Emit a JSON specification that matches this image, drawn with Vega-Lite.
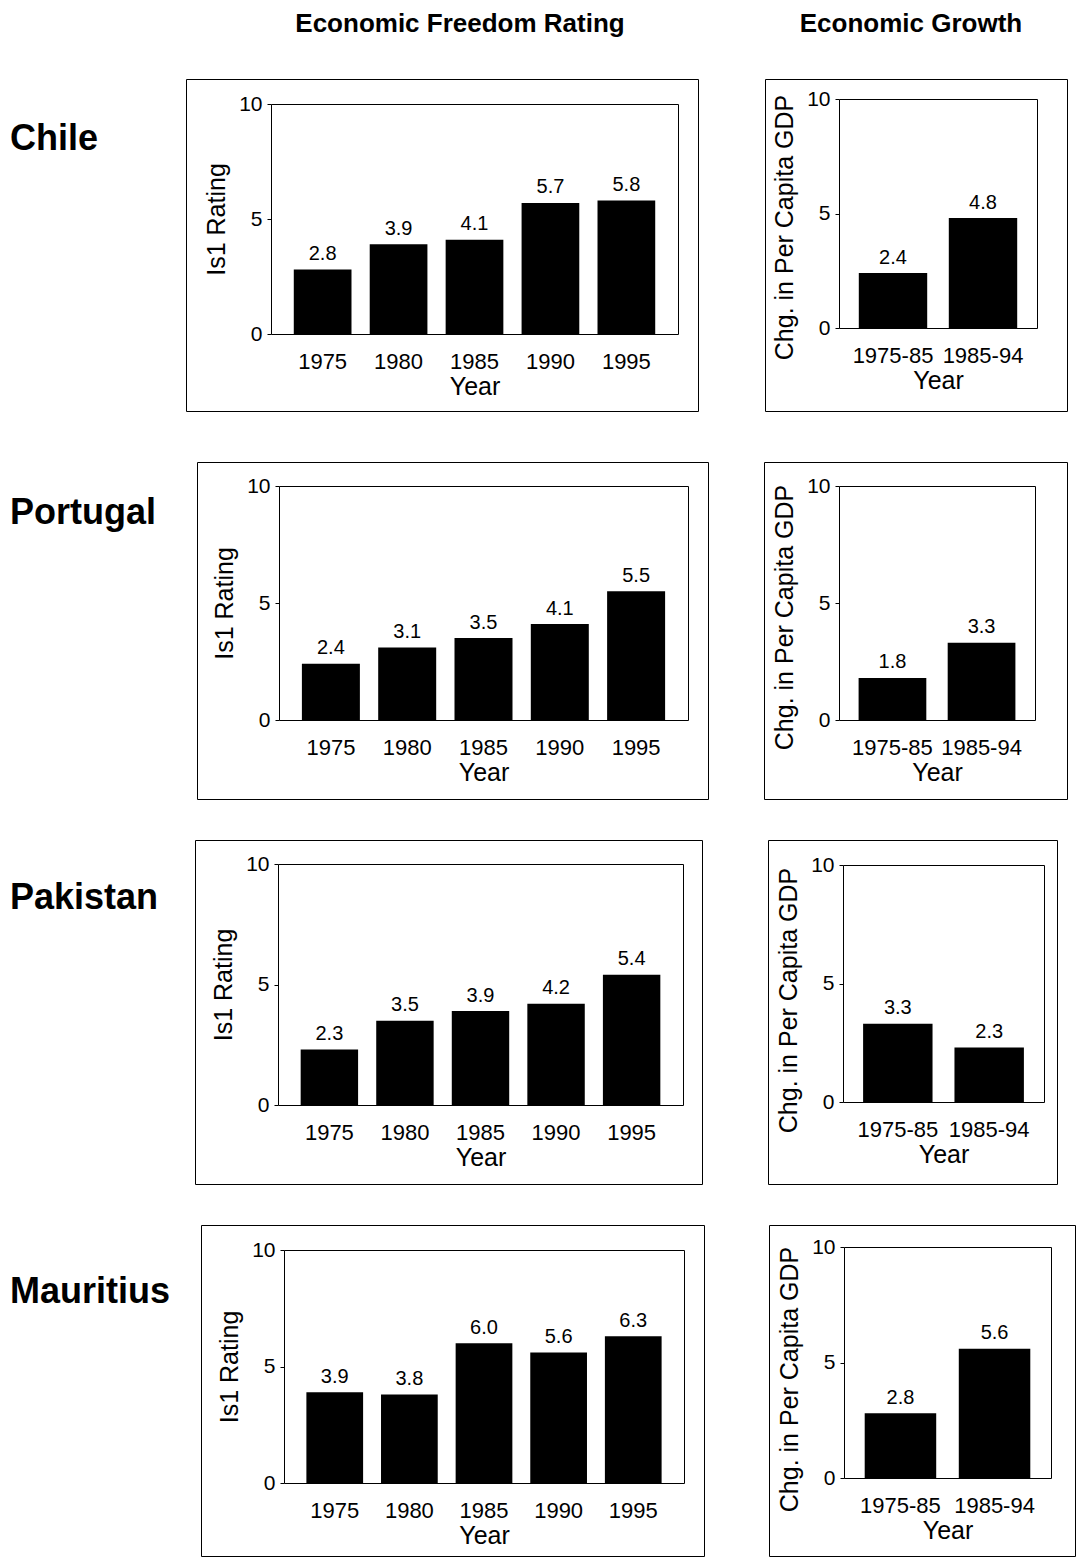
{
  "$schema": "https://vega.github.io/schema/vega-lite/v6.json",
  "padding": 0,
  "background": "white",
  "spacing": 30,
  "config": {
    "font": "Liberation Sans",
    "view": {"stroke": "black", "strokeWidth": 1},
    "axis": {
      "grid": false,
      "labelFontSize": 21,
      "titleFontSize": 25,
      "titleFontWeight": "normal",
      "labelColor": "black",
      "titleColor": "black",
      "domainColor": "black",
      "tickColor": "black",
      "domainWidth": 1,
      "tickSize": 4,
      "labelPadding": 5,
      "titlePadding": 9
    },
    "axisX": {"labelAngle": 0, "labelFontSize": 22, "ticks": false, "tickSize": 0, "labelPadding": 17, "titlePadding": 2}
  },
  "datasets": {
    "efr": [
      {"country": "Chile", "year": "1975", "rating": 2.8},
      {"country": "Chile", "year": "1980", "rating": 3.9},
      {"country": "Chile", "year": "1985", "rating": 4.1},
      {"country": "Chile", "year": "1990", "rating": 5.7},
      {"country": "Chile", "year": "1995", "rating": 5.8},
      {"country": "Portugal", "year": "1975", "rating": 2.4},
      {"country": "Portugal", "year": "1980", "rating": 3.1},
      {"country": "Portugal", "year": "1985", "rating": 3.5},
      {"country": "Portugal", "year": "1990", "rating": 4.1},
      {"country": "Portugal", "year": "1995", "rating": 5.5},
      {"country": "Pakistan", "year": "1975", "rating": 2.3},
      {"country": "Pakistan", "year": "1980", "rating": 3.5},
      {"country": "Pakistan", "year": "1985", "rating": 3.9},
      {"country": "Pakistan", "year": "1990", "rating": 4.2},
      {"country": "Pakistan", "year": "1995", "rating": 5.4},
      {"country": "Mauritius", "year": "1975", "rating": 3.9},
      {"country": "Mauritius", "year": "1980", "rating": 3.8},
      {"country": "Mauritius", "year": "1985", "rating": 6.0},
      {"country": "Mauritius", "year": "1990", "rating": 5.6},
      {"country": "Mauritius", "year": "1995", "rating": 6.3}
    ],
    "growth": [
      {"country": "Chile", "period": "1975-85", "value": 2.4},
      {"country": "Chile", "period": "1985-94", "value": 4.8},
      {"country": "Portugal", "period": "1975-85", "value": 1.8},
      {"country": "Portugal", "period": "1985-94", "value": 3.3},
      {"country": "Pakistan", "period": "1975-85", "value": 3.3},
      {"country": "Pakistan", "period": "1985-94", "value": 2.3},
      {"country": "Mauritius", "period": "1975-85", "value": 2.8},
      {"country": "Mauritius", "period": "1985-94", "value": 5.6}
    ]
  },
  "vconcat": [
    {
      "width": 1077, "height": 48,
      "view": {"stroke": null},
      "data": {"values": [{"h": "Economic Freedom Rating"}, {"h": "Economic Growth"}]},
      "mark": {"type": "text", "fontSize": 26, "fontWeight": "bold", "baseline": "middle"},
      "encoding": {
        "text": {"field": "h"},
        "x": {"field": "h", "type": "nominal", "sort": null, "axis": null, "scale": {"type": "point", "range": [460, 911], "padding": 0}}
      }
    },
    {
      "spacing": 49,
      "vconcat": [
        {
          "spacing": 15,
          "hconcat": [
            {
              "width": 170, "height": 332, "view": {"stroke": null},
              "data": {"values": [{"c": "Chile"}]},
              "mark": {"type": "text", "align": "left", "baseline": "middle", "fontSize": 36, "fontWeight": "bold", "dx": -75, "dy": -106},
              "encoding": {"text": {"field": "c"}}
            },
            {
              "spacing": 65,
              "hconcat": [
                {
                  "width": 512, "height": 332,
                  "data": {"name": "efr"},
                  "transform": [{"filter": "datum.country === 'Chile'"}],
                  "layer": [
                    {"mark": {"type": "bar", "color": "black"},
                     "encoding": {
                       "x": {"field": "year", "type": "ordinal", "scale": {"range": [85, 492], "paddingInner": 0.24, "paddingOuter": 0.3}, "axis": {"orient": "bottom", "offset": -77, "title": "Year"}},
                       "y": {"field": "rating", "type": "quantitative", "scale": {"domain": [0, 10], "range": [255, 25]}, "axis": {"orient": "left", "offset": -85, "title": "Is1 Rating", "values": [0, 5, 10]}}
                     }},
                    {"mark": {"type": "text", "baseline": "alphabetic", "dy": -9.5, "fontSize": 20},
                     "encoding": {
                       "x": {"field": "year", "type": "ordinal", "axis": {"orient": "top", "offset": -25, "labels": false, "ticks": false, "title": null}},
                       "y": {"field": "rating", "type": "quantitative", "axis": {"orient": "right", "offset": -20, "labels": false, "ticks": false, "title": null}},
                       "text": {"field": "rating", "format": ".1f"}
                     }}
                  ],
                  "resolve": {"axis": {"x": "independent", "y": "independent"}}
                },
                {
                  "width": 302, "height": 332,
                  "data": {"name": "growth"},
                  "transform": [{"filter": "datum.country === 'Chile'"}],
                  "layer": [
                    {"mark": {"type": "bar", "color": "black"},
                     "encoding": {
                       "x": {"field": "period", "type": "ordinal", "scale": {"range": [74, 272], "paddingInner": 0.24, "paddingOuter": 0.22}, "axis": {"orient": "bottom", "offset": -83, "title": "Year"}},
                       "y": {"field": "value", "type": "quantitative", "scale": {"domain": [0, 10], "range": [249, 20]}, "axis": {"orient": "left", "offset": -74, "title": "Chg. in Per Capita GDP", "titleY": 148, "values": [0, 5, 10]}}
                     }},
                    {"mark": {"type": "text", "baseline": "alphabetic", "dy": -9.5, "fontSize": 20},
                     "encoding": {
                       "x": {"field": "period", "type": "ordinal", "axis": {"orient": "top", "offset": -20, "labels": false, "ticks": false, "title": null}},
                       "y": {"field": "value", "type": "quantitative", "axis": {"orient": "right", "offset": -30, "labels": false, "ticks": false, "title": null}},
                       "text": {"field": "value", "format": ".1f"}
                     }}
                  ],
                  "resolve": {"axis": {"x": "independent", "y": "independent"}}
                }
              ]
            }
          ]
        },
        {
          "spacing": 39,
          "vconcat": [
            {
              "spacing": 26,
              "hconcat": [
                {
                  "width": 170, "height": 337, "view": {"stroke": null},
                  "data": {"values": [{"c": "Portugal"}]},
                  "mark": {"type": "text", "align": "left", "baseline": "middle", "fontSize": 36, "fontWeight": "bold", "dx": -75, "dy": -117.5},
                  "encoding": {"text": {"field": "c"}}
                },
                {
                  "spacing": 54,
                  "hconcat": [
                    {
                      "width": 511, "height": 337,
                      "data": {"name": "efr"},
                      "transform": [{"filter": "datum.country === 'Portugal'"}],
                      "layer": [
                        {"mark": {"type": "bar", "color": "black"},
                         "encoding": {
                           "x": {"field": "year", "type": "ordinal", "scale": {"range": [82, 491], "paddingInner": 0.24, "paddingOuter": 0.3}, "axis": {"orient": "bottom", "offset": -79, "title": "Year"}},
                           "y": {"field": "rating", "type": "quantitative", "scale": {"domain": [0, 10], "range": [258, 24]}, "axis": {"orient": "left", "offset": -82, "title": "Is1 Rating", "values": [0, 5, 10]}}
                         }},
                        {"mark": {"type": "text", "baseline": "alphabetic", "dy": -9.5, "fontSize": 20},
                         "encoding": {
                           "x": {"field": "year", "type": "ordinal", "axis": {"orient": "top", "offset": -24, "labels": false, "ticks": false, "title": null}},
                           "y": {"field": "rating", "type": "quantitative", "axis": {"orient": "right", "offset": -20, "labels": false, "ticks": false, "title": null}},
                           "text": {"field": "rating", "format": ".1f"}
                         }}
                      ],
                      "resolve": {"axis": {"x": "independent", "y": "independent"}}
                    },
                    {
                      "width": 303, "height": 337,
                      "data": {"name": "growth"},
                      "transform": [{"filter": "datum.country === 'Portugal'"}],
                      "layer": [
                        {"mark": {"type": "bar", "color": "black"},
                         "encoding": {
                           "x": {"field": "period", "type": "ordinal", "scale": {"range": [75, 271], "paddingInner": 0.24, "paddingOuter": 0.22}, "axis": {"orient": "bottom", "offset": -79, "title": "Year"}},
                           "y": {"field": "value", "type": "quantitative", "scale": {"domain": [0, 10], "range": [258, 24]}, "axis": {"orient": "left", "offset": -75, "title": "Chg. in Per Capita GDP", "titleY": 155, "values": [0, 5, 10]}}
                         }},
                        {"mark": {"type": "text", "baseline": "alphabetic", "dy": -9.5, "fontSize": 20},
                         "encoding": {
                           "x": {"field": "period", "type": "ordinal", "axis": {"orient": "top", "offset": -24, "labels": false, "ticks": false, "title": null}},
                           "y": {"field": "value", "type": "quantitative", "axis": {"orient": "right", "offset": -32, "labels": false, "ticks": false, "title": null}},
                           "text": {"field": "value", "format": ".1f"}
                         }}
                      ],
                      "resolve": {"axis": {"x": "independent", "y": "independent"}}
                    }
                  ]
                }
              ]
            },
            {
              "spacing": 24,
              "hconcat": [
                {
                  "width": 170, "height": 344, "view": {"stroke": null},
                  "data": {"values": [{"c": "Pakistan"}]},
                  "mark": {"type": "text", "align": "left", "baseline": "middle", "fontSize": 36, "fontWeight": "bold", "dx": -75, "dy": -114},
                  "encoding": {"text": {"field": "c"}}
                },
                {
                  "spacing": 64,
                  "hconcat": [
                    {
                      "width": 507, "height": 344,
                      "data": {"name": "efr"},
                      "transform": [{"filter": "datum.country === 'Pakistan'"}],
                      "layer": [
                        {"mark": {"type": "bar", "color": "black"},
                         "encoding": {
                           "x": {"field": "year", "type": "ordinal", "scale": {"range": [83, 488], "paddingInner": 0.24, "paddingOuter": 0.3}, "axis": {"orient": "bottom", "offset": -79, "title": "Year"}},
                           "y": {"field": "rating", "type": "quantitative", "scale": {"domain": [0, 10], "range": [265, 24]}, "axis": {"orient": "left", "offset": -83, "title": "Is1 Rating", "values": [0, 5, 10]}}
                         }},
                        {"mark": {"type": "text", "baseline": "alphabetic", "dy": -9.5, "fontSize": 20},
                         "encoding": {
                           "x": {"field": "year", "type": "ordinal", "axis": {"orient": "top", "offset": -24, "labels": false, "ticks": false, "title": null}},
                           "y": {"field": "rating", "type": "quantitative", "axis": {"orient": "right", "offset": -19, "labels": false, "ticks": false, "title": null}},
                           "text": {"field": "rating", "format": ".1f"}
                         }}
                      ],
                      "resolve": {"axis": {"x": "independent", "y": "independent"}}
                    },
                    {
                      "width": 289, "height": 344,
                      "data": {"name": "growth"},
                      "transform": [{"filter": "datum.country === 'Pakistan'"}],
                      "layer": [
                        {"mark": {"type": "bar", "color": "black"},
                         "encoding": {
                           "x": {"field": "period", "type": "ordinal", "scale": {"range": [75, 276], "paddingInner": 0.24, "paddingOuter": 0.22}, "axis": {"orient": "bottom", "offset": -82, "title": "Year"}},
                           "y": {"field": "value", "type": "quantitative", "scale": {"domain": [0, 10], "range": [262, 25]}, "axis": {"orient": "left", "offset": -75, "title": "Chg. in Per Capita GDP", "titleY": 160, "values": [0, 5, 10]}}
                         }},
                        {"mark": {"type": "text", "baseline": "alphabetic", "dy": -9.5, "fontSize": 20},
                         "encoding": {
                           "x": {"field": "period", "type": "ordinal", "axis": {"orient": "top", "offset": -25, "labels": false, "ticks": false, "title": null}},
                           "y": {"field": "value", "type": "quantitative", "axis": {"orient": "right", "offset": -13, "labels": false, "ticks": false, "title": null}},
                           "text": {"field": "value", "format": ".1f"}
                         }}
                      ],
                      "resolve": {"axis": {"x": "independent", "y": "independent"}}
                    }
                  ]
                }
              ]
            },
            {
              "spacing": 29,
              "hconcat": [
                {
                  "width": 170, "height": 331, "view": {"stroke": null},
                  "data": {"values": [{"c": "Mauritius"}]},
                  "mark": {"type": "text", "align": "left", "baseline": "middle", "fontSize": 36, "fontWeight": "bold", "dx": -75, "dy": -98.5},
                  "encoding": {"text": {"field": "c"}}
                },
                {
                  "spacing": 63,
                  "hconcat": [
                    {
                      "width": 503, "height": 331,
                      "data": {"name": "efr"},
                      "transform": [{"filter": "datum.country === 'Mauritius'"}],
                      "layer": [
                        {"mark": {"type": "bar", "color": "black"},
                         "encoding": {
                           "x": {"field": "year", "type": "ordinal", "scale": {"range": [83, 483], "paddingInner": 0.24, "paddingOuter": 0.3}, "axis": {"orient": "bottom", "offset": -73, "title": "Year"}},
                           "y": {"field": "rating", "type": "quantitative", "scale": {"domain": [0, 10], "range": [258, 25]}, "axis": {"orient": "left", "offset": -83, "title": "Is1 Rating", "values": [0, 5, 10]}}
                         }},
                        {"mark": {"type": "text", "baseline": "alphabetic", "dy": -9.5, "fontSize": 20},
                         "encoding": {
                           "x": {"field": "year", "type": "ordinal", "axis": {"orient": "top", "offset": -25, "labels": false, "ticks": false, "title": null}},
                           "y": {"field": "rating", "type": "quantitative", "axis": {"orient": "right", "offset": -20, "labels": false, "ticks": false, "title": null}},
                           "text": {"field": "rating", "format": ".1f"}
                         }}
                      ],
                      "resolve": {"axis": {"x": "independent", "y": "independent"}}
                    },
                    {
                      "width": 306, "height": 331,
                      "data": {"name": "growth"},
                      "transform": [{"filter": "datum.country === 'Mauritius'"}],
                      "layer": [
                        {"mark": {"type": "bar", "color": "black"},
                         "encoding": {
                           "x": {"field": "period", "type": "ordinal", "scale": {"range": [75, 282], "paddingInner": 0.24, "paddingOuter": 0.22}, "axis": {"orient": "bottom", "offset": -78, "title": "Year"}},
                           "y": {"field": "value", "type": "quantitative", "scale": {"domain": [0, 10], "range": [253, 22]}, "axis": {"orient": "left", "offset": -75, "title": "Chg. in Per Capita GDP", "titleY": 154, "values": [0, 5, 10]}}
                         }},
                        {"mark": {"type": "text", "baseline": "alphabetic", "dy": -9.5, "fontSize": 20},
                         "encoding": {
                           "x": {"field": "period", "type": "ordinal", "axis": {"orient": "top", "offset": -22, "labels": false, "ticks": false, "title": null}},
                           "y": {"field": "value", "type": "quantitative", "axis": {"orient": "right", "offset": -24, "labels": false, "ticks": false, "title": null}},
                           "text": {"field": "value", "format": ".1f"}
                         }}
                      ],
                      "resolve": {"axis": {"x": "independent", "y": "independent"}}
                    }
                  ]
                }
              ]
            }
          ]
        }
      ]
    }
  ]
}
